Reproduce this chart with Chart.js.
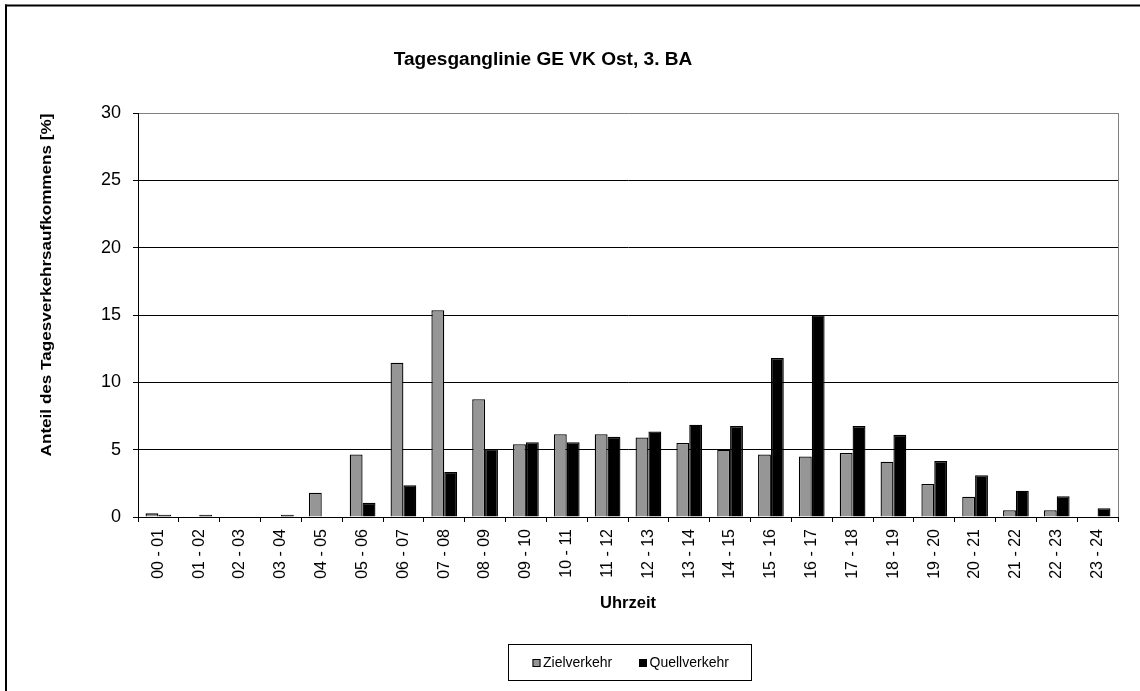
<!DOCTYPE html>
<html>
<head>
<meta charset="utf-8">
<script src="https://cdn.jsdelivr.net/npm/chart.js@4"></script>
<style>
  html, body { margin: 0; padding: 0; background: #fff; }
  canvas { display: block; }
</style>
</head>
<body>
<canvas id="myChart" width="1140" height="691"></canvas>
<script>
// data
const hours = ['00 - 01', '01 - 02', '02 - 03', '03 - 04', '04 - 05', '05 - 06', '06 - 07', '07 - 08',
               '08 - 09', '09 - 10', '10 - 11', '11 - 12', '12 - 13', '13 - 14', '14 - 15', '15 - 16',
               '16 - 17', '17 - 18', '18 - 19', '19 - 20', '20 - 21', '21 - 22', '22 - 23', '23 - 24'];
const zielverkehr = [0.27, 0, 0, 0, 1.8, 4.65, 11.45, 15.35, 8.75, 5.4, 6.15, 6.15,
                     5.9, 5.5, 5.0, 4.65, 4.5, 4.75, 4.1, 2.45, 1.5, 0.5, 0.5, 0];
const quellverkehr = [0.17, 0.17, 0, 0.17, 0, 1.05, 2.35, 3.35, 5.05, 5.55, 5.55, 5.95,
                      6.35, 6.85, 6.75, 11.8, 15.0, 6.75, 6.1, 4.15, 3.1, 1.95, 1.55, 0.65];
const yTicks = [0, 5, 10, 15, 20, 25, 30];

const chartTitle = 'Tagesganglinie GE VK Ost, 3. BA';
const yTitle = 'Anteil des Tagesverkehrsaufkommens [%]';
const xTitle = 'Uhrzeit';

const FONT = '"Liberation Sans", Arial, sans-serif';

// texts, frame and legend drawn like the Excel original
const excelDeco = {
    id: 'excelDeco',
    beforeDraw(chart) {
        const c = chart.ctx;
        c.save();
        c.fillStyle = '#fff';
        c.fillRect(0, 0, chart.width, chart.height);
        c.restore();
    },
    afterDraw(chart) {
        const c = chart.ctx;
        const area = chart.chartArea;
        c.save();

        // outer frame (only left/top visible)
        c.fillStyle = '#000';
        c.fillRect(5, 4.5, chart.width, 2);
        c.fillRect(5, 4.5, 2, chart.height);

        // right edge of plot area
        c.strokeStyle = '#808080';
        c.lineWidth = 1;
        c.beginPath();
        c.moveTo(Math.round(area.right) + 0.5, area.top);
        c.lineTo(Math.round(area.right) + 0.5, area.bottom);
        c.stroke();

        c.fillStyle = '#000';
        c.textBaseline = 'middle';
        c.textAlign = 'center';

        // chart title
        c.save();
        c.translate(543, 60);
        c.scale(1.06, 1);
        c.font = 'bold 18px ' + FONT;
        c.fillText(chartTitle, 0, 0);
        c.restore();

        // y title
        c.save();
        c.translate(46.5, 285);
        c.rotate(-Math.PI / 2);
        c.scale(1.14, 1);
        c.font = 'bold 15px ' + FONT;
        c.fillText(yTitle, 0, 0);
        c.restore();

        // x title
        c.font = 'bold 16.5px ' + FONT;
        c.fillText(xTitle, (area.left + area.right) / 2, 603);

        // legend box
        c.strokeStyle = '#000';
        c.lineWidth = 1;
        c.strokeRect(508.5, 644.5, 243, 36);
        c.font = '14px ' + FONT;
        c.textAlign = 'left';
        const ds = chart.data.datasets;
        const itemX = [532.5, 639];
        ds.forEach((d, i) => {
            c.fillStyle = d.backgroundColor;
            c.fillRect(itemX[i], 659, 8, 8);
            c.strokeStyle = '#000';
            c.strokeRect(itemX[i] + 0.5, 659.5, 7, 7);
            c.fillStyle = '#000';
            c.fillText(d.label, itemX[i] + 10.5, 663);
        });

        c.restore();
    }
};

const ctx = document.getElementById('myChart').getContext('2d');

const myChart = new Chart(ctx, {
    type: 'bar',
    data: {
        labels: hours,
        datasets: [{
            label: 'Zielverkehr',
            data: zielverkehr,
            backgroundColor: '#969696',
            borderColor: '#000',
            borderWidth: 1.3,
            categoryPercentage: 0.63,
            barPercentage: 1
        }, {
            label: 'Quellverkehr',
            data: quellverkehr,
            backgroundColor: '#000',
            borderColor: '#000',
            borderWidth: 1.3,
            categoryPercentage: 0.63,
            barPercentage: 1
        }]
    },
    options: {
        responsive: false,
        animation: false,
        devicePixelRatio: 1,
        layout: {
            padding: { left: 0, top: 113, right: 22, bottom: 0 }
        },
        plugins: {
            legend: { display: false },
            title: { display: false },
            tooltip: { enabled: false }
        },
        scales: {
            x: {
                grid: {
                    offset: true,
                    drawOnChartArea: false,
                    drawTicks: true,
                    tickLength: 5,
                    color: '#000'
                },
                border: { color: '#000', width: 1 },
                ticks: {
                    autoSkip: false,
                    minRotation: 90,
                    maxRotation: 90,
                    padding: 7,
                    color: '#000',
                    font: { family: FONT, size: 16 }
                },
                afterFit: (scale) => { scale.height = 174; }
            },
            y: {
                min: 0,
                max: 30,
                afterBuildTicks: (scale) => {
                    scale.ticks = yTicks.map(v => ({ value: v }));
                },
                grid: {
                    color: (c) => (c.tick && c.tick.value === 30) ? '#808080' : '#000',
                    tickColor: '#000',
                    tickLength: 5,
                    lineWidth: 1
                },
                border: { color: '#000', width: 1 },
                ticks: {
                    padding: 12,
                    color: '#000',
                    font: { family: FONT, size: 18 }
                },
                afterFit: (scale) => { scale.width = 138; }
            }
        }
    },
    plugins: [excelDeco]
});
</script>
</body>
</html>
